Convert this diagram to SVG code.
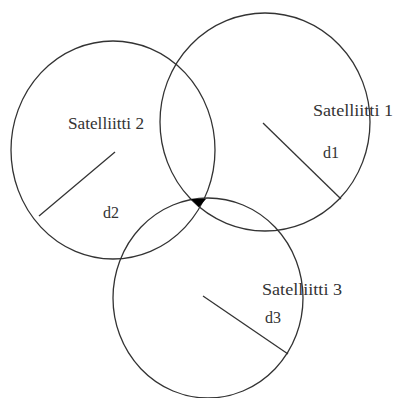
<svg xmlns="http://www.w3.org/2000/svg" width="397" height="398" viewBox="0 0 397 398">
<style>
.c{fill:none;stroke:#333;stroke-width:1.3}
.r{stroke:#333;stroke-width:1.3}
text{font-family:"Liberation Serif","Times New Roman",serif;font-size:16px;fill:#333}
</style>
<rect width="397" height="398" fill="#fff"/>
<g id="sat1">
<ellipse class="c" cx="265" cy="122" rx="105" ry="109"/>
<text x="313" y="116" textLength="80" lengthAdjust="spacingAndGlyphs">Satelliitti 1</text>
</g>
<g id="sat2">
<ellipse class="c" cx="113" cy="150" rx="102" ry="109"/>
<text x="68" y="129" textLength="76" lengthAdjust="spacingAndGlyphs">Satelliitti 2</text>
</g>
<g id="sat3">
<ellipse class="c" cx="208" cy="298" rx="95" ry="100"/>
<text x="262" y="295" textLength="80" lengthAdjust="spacingAndGlyphs">Satelliitti 3</text>
</g>
<g id="connectors">
<line class="r" x1="263" y1="123" x2="341" y2="199"/>
<line class="r" x1="115" y1="152" x2="39" y2="216"/>
<line class="r" x1="203" y1="296" x2="288" y2="354"/>
<polygon points="191,199 206,199 199,207" fill="#000"/>
</g>
<g id="labels">
<text x="323" y="158">d1</text>
<text x="103" y="218">d2</text>
<text x="265" y="323">d3</text>
</g>
</svg>
